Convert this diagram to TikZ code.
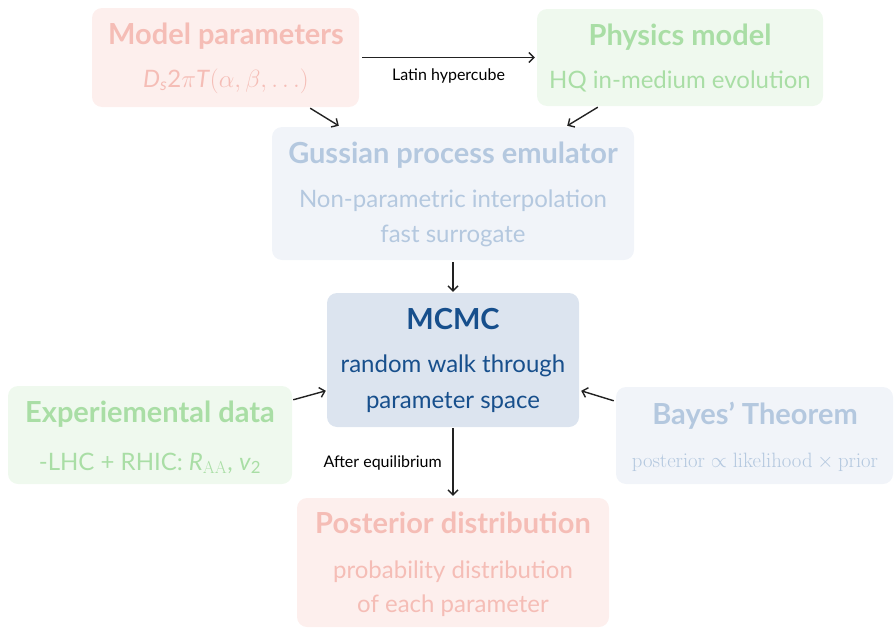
\documentclass[tikz,border=0pt]{standalone}
\usepackage[no-math]{fontspec}
\setmainfont{Lato}
\usetikzlibrary{arrows.meta}
\definecolor{pinkfill}{HTML}{FDEFED}
\definecolor{pinktext}{HTML}{F5BDB6}
\definecolor{greenfill}{HTML}{EFF9EE}
\definecolor{greentext}{HTML}{A9DEA5}
\definecolor{bluefill}{HTML}{F1F4F9}
\definecolor{bluetext}{HTML}{B4C8DF}
\definecolor{mcmcfill}{HTML}{DCE4EF}
\definecolor{mcmctext}{HTML}{174F8C}
\definecolor{arrowcol}{HTML}{222222}
\tikzset{
  box/.style={draw=none, rounded corners=10pt, inner sep=0pt, minimum width=#1},
  ttl/.style={anchor=base, font=\fontsize{29}{34}\selectfont\bfseries, inner sep=0pt},
  sub/.style={anchor=base, font=\fontsize{24}{28}\selectfont, inner sep=0pt},
  lbl/.style={anchor=base, font=\fontsize{16}{19}\selectfont, inner sep=0pt, text=black},
  conn/.style={draw=arrowcol, line width=1.4pt, -{Straight Barb[length=5pt,width=10pt,line width=1.4pt]}}
}
\begin{document}
\begin{tikzpicture}[x=1pt,y=-1pt]
\useasboundingbox (0,0) rectangle (894,629);
% boxes
\fill[pinkfill, rounded corners=10pt] (92,8) rectangle (359,107);
\node[box, minimum width=267pt, minimum height=99pt] (modelb) at (225.5,57.5) {};
\fill[greenfill, rounded corners=10pt] (537,9) rectangle (823,106);
\node[box, minimum width=286pt, minimum height=97pt] (phys) at (680,57.5) {};
\fill[bluefill, rounded corners=10pt] (272,127) rectangle (634,260);
\node[box, minimum width=362pt, minimum height=133pt] (gauss) at (453,193.5) {};
\fill[mcmcfill, rounded corners=10pt] (327,293) rectangle (579,427);
\node[box, minimum width=252pt, minimum height=134pt] (mcmc) at (453,360) {};
\fill[greenfill, rounded corners=10pt] (8,386) rectangle (292,484);
\node[box, minimum width=284pt, minimum height=98pt] (exp) at (150,435) {};
\fill[bluefill, rounded corners=10pt] (616,387) rectangle (893,484);
\node[box, minimum width=277pt, minimum height=97pt] (bayes) at (754.5,435.5) {};
\fill[pinkfill, rounded corners=10pt] (297,498) rectangle (609,627);
\node[box, minimum width=312pt, minimum height=129pt] (post) at (453,562.5) {};
% texts
\node[ttl, text=pinktext] (t1) at (226,44) {Model parameters};
\node[sub, text=pinktext] (s1) at (226,87) {\textit{D}\textsubscript{\textit{s}}2$\pi$\textit{T}$(\alpha, \beta, \ldots)$};
\node[ttl, text=greentext] (t2) at (680,45) {Physics model};
\node[sub, text=greentext] (s2) at (680,88) {HQ in-medium evolution};
\node[ttl, text=bluetext] (t3) at (453,163) {Gussian process emulator};
\node[sub, text=bluetext] (s3a) at (453,207) {Non-parametric interpolation};
\node[sub, text=bluetext] (s3b) at (453,242) {fast surrogate};
\node[ttl, text=mcmctext] (t4) at (453,329) {MCMC};
\node[sub, text=mcmctext] (s4a) at (453,372) {random walk through};
\node[sub, text=mcmctext] (s4b) at (453,408) {parameter space};
\node[ttl, text=greentext] (t5) at (150,422) {Experiemental data};
\node[sub, text=greentext] (s5) at (150,470) {-LHC + RHIC: \textit{R}$_{\mathrm{AA}}$, \textit{v}\textsubscript{2}};
\node[ttl, text=bluetext] (t6) at (755,424) {Bayes’ Theorem};
\node[anchor=base, inner sep=0pt, text=bluetext, font=\fontsize{20.5}{24}\selectfont] (s6) at (755,467) {$\mathrm{posterior} \propto \mathrm{likelihood} \times \mathrm{prior}$};
\node[ttl, text=pinktext] (t7) at (453,533) {Posterior distribution};
\node[sub, text=pinktext] (s7a) at (453,578) {probability distribution};
\node[sub, text=pinktext] (s7b) at (453,612) {of each parameter};
% connectors
\draw[conn] ([xshift=3pt]modelb.east) -- ([xshift=-2pt]phys.west) node[midway, lbl, yshift=-23pt] (lh) {Latin hypercube};
\draw[conn] ([xshift=-49pt,yshift=-1pt]modelb.south east) -- ([xshift=67pt,yshift=1pt]gauss.north west);
\draw[conn] ([xshift=61pt,yshift=-1pt]phys.south west) -- ([xshift=-67pt,yshift=1pt]gauss.north east);
\draw[conn] ([yshift=-2pt]gauss.south) -- ([yshift=1pt]mcmc.north);
\draw[conn] ([xshift=1pt,yshift=-14pt]exp.north east) -- ([xshift=-1pt,yshift=-98pt]mcmc.north west);
\draw[conn] ([xshift=-2pt,yshift=-14pt]bayes.north west) -- ([xshift=2pt,yshift=-98pt]mcmc.north east);
\draw[conn] ([yshift=-1pt]mcmc.south) -- ([yshift=2pt]post.north);
\node[lbl, anchor=base east] (ae) at (442,467) {After equilibrium};
\end{tikzpicture}
\end{document}
